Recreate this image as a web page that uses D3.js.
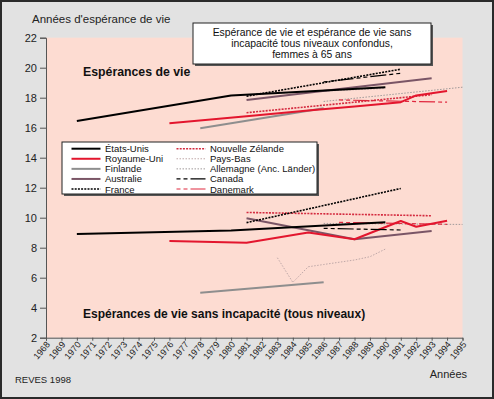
<!DOCTYPE html>
<html><head><meta charset="utf-8">
<script src="https://cdn.jsdelivr.net/npm/d3@7"></script>
<style>
html,body{margin:0;padding:0;background:#fff;}
svg{display:block;font-family:"Liberation Sans",Arial,Helvetica,sans-serif;}
</style></head>
<body>
<svg id="chart" width="494" height="399"></svg>
<script>
// ---- data ----
const xTicks = d3.range(1968, 1996);
const yTicks = [2,4,6,8,10,12,14,16,18,20,22];
const countries = ["États-Unis","Royaume-Uni","Finlande","Australie","France",
                   "Nouvelle Zélande","Pays-Bas","Allemagne (Anc. Länder)","Canada","Danemark"];
// Espérance de vie (EV) – [année, valeur]
const evEtatsUnis   = [[1970,16.45],[1980,18.15],[1990,18.7]];
const evRoyaumeUni  = [[1976,16.3],[1981,16.77],[1985,17.14],[1988,17.42],[1991,17.7],[1992,18.15],[1994,18.45]];
const evFinlande    = [[1978,15.97],[1986,17.3]];
const evAustralie   = [[1981,17.85],[1988,18.69],[1993,19.3]];
const evFrance      = [[1981,18.1],[1991,19.9]];
const evNZ          = [[1981,17.0],[1993,18.2]];
const evPaysBas     = [[1983,18.3],[1990,18.62]];
const evAllemagne   = [[1986,17.75],[1995,18.7]];
const evCanada      = [[1986,19.05],[1991,19.63]];
const evDanemark    = [[1987,17.85],[1994,17.7]];
// Espérance de vie sans incapacité (EVSI)
const evsiEtatsUnis  = [[1970,8.91],[1980,9.15],[1990,9.69]];
const evsiRoyaumeUni = [[1976,8.45],[1981,8.33],[1985,9.02],[1988,8.56],[1991,9.78],[1992,9.4],[1994,9.8]];
const evsiFinlande   = [[1978,5.0],[1986,5.69]];
const evsiAustralie  = [[1981,9.96],[1988,8.56],[1993,9.12]];
const evsiFrance     = [[1981,9.67],[1991,11.95]];
const evsiNZ         = [[1981,10.35],[1993,10.13]];
const evsiPaysBas    = [[1983,7.33],[1984,5.69],[1985,6.73],[1986,6.88],[1987,7.03],[1988,7.18],[1989,7.4],[1990,7.91]];
const evsiAllemagne  = [[1986,9.62],[1995,9.55]];
const evsiCanada     = [[1986,9.29],[1991,9.18]];
const evsiDanemark   = [[1987,9.69],[1994,9.56]];

const styles = {
  "États-Unis":{color:"#000000",w:2,dash:null},
  "Royaume-Uni":{color:"#e3162e",w:2,dash:null},
  "Finlande":{color:"#8e8e8e",w:2,dash:null},
  "Australie":{color:"#7a5566",w:2,dash:null},
  "France":{color:"#000000",w:1.6,dash:"2,1.2"},
  "Nouvelle Zélande":{color:"#d42a3f",w:1.6,dash:"2,1.2"},
  "Pays-Bas":{color:"#bfa8a8",w:1,dash:"1.5,1.5"},
  "Allemagne (Anc. Länder)":{color:"#a09a9a",w:1,dash:"1.5,1.5"},
  "Canada":{color:"#000000",w:1.2,dash:"4,3,4,3,16,3"},
  "Danemark":{color:"#e0283e",w:1.2,dash:"4,3,4,3,16,3"}
};
const seriesEV = {"États-Unis":evEtatsUnis,"Royaume-Uni":evRoyaumeUni,"Finlande":evFinlande,"Australie":evAustralie,
  "France":evFrance,"Nouvelle Zélande":evNZ,"Pays-Bas":evPaysBas,"Allemagne (Anc. Länder)":evAllemagne,"Canada":evCanada,"Danemark":evDanemark};
const seriesEVSI = {"États-Unis":evsiEtatsUnis,"Royaume-Uni":evsiRoyaumeUni,"Finlande":evsiFinlande,"Australie":evsiAustralie,
  "France":evsiFrance,"Nouvelle Zélande":evsiNZ,"Pays-Bas":evsiPaysBas,"Allemagne (Anc. Länder)":evsiAllemagne,"Canada":evsiCanada,"Danemark":evsiDanemark};
const drawOrder = ["Pays-Bas","Allemagne (Anc. Länder)","Danemark","Nouvelle Zélande","Finlande","Australie","Royaume-Uni","États-Unis","Canada","France"];

// ---- drawing ----
const svg = d3.select("#chart");
svg.append("rect").attr("x",1).attr("y",1).attr("width",492).attr("height",397)
  .attr("fill","#e2e2e2").attr("stroke","#2a2a2a").attr("stroke-width",2);

const x = d3.scaleLinear().domain([1968,1995]).range([46,462.5]);
const y = d3.scaleLinear().domain([2,22]).range([337.7,37.7]);

svg.append("rect").attr("x",x(1968)).attr("y",y(22)).attr("width",x(1995)-x(1968)).attr("height",y(2)-y(22))
  .attr("fill","#fddcd2");

// axes
const yAxis = svg.append("g").attr("transform",`translate(${x(1968)},0)`)
  .call(d3.axisLeft(y).tickValues(yTicks).tickSize(6).tickPadding(3).tickFormat(d3.format("d")));
yAxis.select(".domain").attr("stroke","#555");
yAxis.selectAll(".tick line").attr("stroke","#555");
yAxis.selectAll("text").attr("font-size","11px").attr("fill","#222").attr("font-family","Liberation Sans, Arial, sans-serif");

const xAxis = svg.append("g").attr("transform",`translate(0,${y(2)})`)
  .call(d3.axisBottom(x).tickValues(xTicks).tickSize(3).tickFormat(d3.format("d")));
xAxis.select(".domain").attr("stroke","#555");
xAxis.selectAll(".tick line").attr("stroke","#555");
xAxis.selectAll("text").attr("font-size","9px").attr("fill","#222")
  .attr("font-family","Liberation Sans, Arial, sans-serif")
  .attr("text-anchor","end").attr("dy",null).attr("y",0)
  .attr("transform","translate(4,7) rotate(-50)");

// lines
const line = d3.line().x(d=>x(d[0])).y(d=>y(d[1]));
function drawSet(set){
  drawOrder.forEach(name=>{
    const s = styles[name];
    svg.append("path").datum(set[name]).attr("d",line).attr("fill","none")
      .attr("stroke",s.color).attr("stroke-width",s.w)
      .attr("stroke-dasharray",s.dash).attr("stroke-linejoin","round");
  });
}
drawSet(seriesEV);
drawSet(seriesEVSI);

// section labels
svg.append("text").attr("x",83).attr("y",76).attr("font-size","12.3px").attr("font-weight","bold").attr("fill","#111")
  .text("Espérances de vie");
svg.append("text").attr("x",83).attr("y",318).attr("font-size","12px").attr("font-weight","bold").attr("fill","#111")
  .text("Espérances de vie sans incapacité (tous niveaux)");

// title box
svg.append("rect").attr("x",195).attr("y",25).attr("width",238).attr("height",41).attr("fill","#555");
svg.append("rect").attr("x",193).attr("y",23).attr("width",238).attr("height",41).attr("fill","#fff").attr("stroke","#222").attr("stroke-width",1);
const titleLines = ["Espérance de vie et espérance de vie sans","incapacité tous niveaux confondus,","femmes à 65 ans"];
svg.append("g").selectAll("text").data(titleLines).join("text")
  .attr("x",312).attr("y",(d,i)=>35.5+i*11).attr("text-anchor","middle").attr("font-size","10.4px").attr("fill","#111")
  .text(d=>d);

// legend
svg.append("rect").attr("x",64).attr("y",144).attr("width",255).attr("height",52).attr("fill","#555");
svg.append("rect").attr("x",62).attr("y",142).attr("width",255).attr("height",52).attr("fill","#fff").attr("stroke","#222").attr("stroke-width",1);
const leg = svg.append("g");
countries.forEach((name,i)=>{
  const col = Math.floor(i/5), row = i%5;
  const lx = col===0 ? 71.5 : 176.5;
  const ly = 148.7 + row*10.08;
  const s = styles[name];
  leg.append("line").attr("x1",lx).attr("x2",lx+29).attr("y1",ly).attr("y2",ly)
    .attr("stroke",s.color).attr("stroke-width",s.w).attr("stroke-dasharray",s.dash);
  leg.append("text").attr("x",lx+33.5).attr("y",ly+3.5).attr("font-size","9.5px").attr("fill","#111").text(name);
});

// other texts
svg.append("text").attr("x",32).attr("y",22.7).attr("font-size","11.5px").attr("fill","#222").text("Années d'espérance de vie");
svg.append("text").attr("x",467).attr("y",378).attr("text-anchor","end").attr("font-size","11px").attr("fill","#222").text("Années");
svg.append("text").attr("x",15).attr("y",383).attr("font-size","9.5px").attr("fill","#222").text("REVES 1998");
</script>
</body></html>
